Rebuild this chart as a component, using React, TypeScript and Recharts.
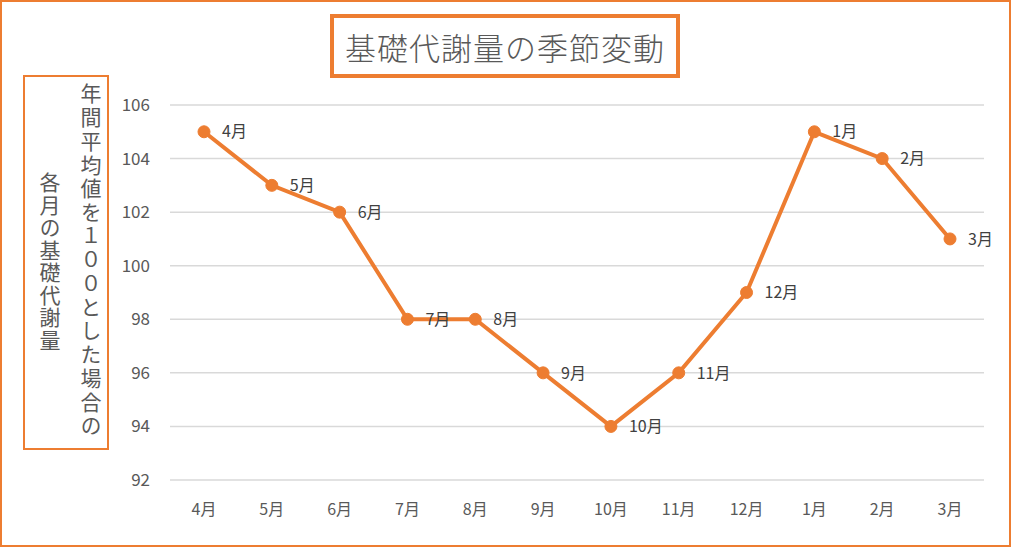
import React from "react";
import { LineChart, Line, XAxis, YAxis, CartesianGrid, LabelList } from "recharts";

const months = ["4月", "5月", "6月", "7月", "8月", "9月", "10月", "11月", "12月", "1月", "2月", "3月"];
const values = [105, 103, 102, 98, 98, 96, 94, 96, 99, 105, 104, 101];
const yTicks = [92, 94, 96, 98, 100, 102, 104, 106];

const chartTitle = "基礎代謝量の季節変動";
const yTitleLine1 = "年間平均値を１００とした場合の";
const yTitleLine2 = "各月の基礎代謝量";

const ORANGE = "#ED7D31";
const FONT = "'Noto Sans CJK JP', 'Noto Sans', sans-serif";

const data = months.map((m, i) => ({ month: m, value: values[i] }));

const App = () => {
  return (
    <div style={{ position: "absolute", left: 0, top: 0, width: 1011, height: 547, background: "#fff", fontFamily: FONT }}>
      <LineChart width={1011} height={547} data={data} margin={{ top: 105, right: 27, bottom: 37, left: 0 }}>
        <CartesianGrid horizontal vertical={false} stroke="#d9d9d9" strokeWidth={1.5} />
        <XAxis
          dataKey="month"
          height={30}
          axisLine={false}
          tickLine={false}
          tickSize={0}
          tickMargin={24}
          padding={{ left: 34, right: 34 }}
          tick={{ fill: "#595959", fontSize: 16, fontFamily: FONT }}
          interval={0}
        />
        <YAxis
          width={170}
          domain={[92, 106]}
          ticks={yTicks}
          axisLine={false}
          tickLine={false}
          tickSize={0}
          tickMargin={20}
          tick={{ fill: "#595959", fontSize: 17, fontFamily: FONT }}
        />
        <Line
          dataKey="value"
          stroke={ORANGE}
          strokeWidth={4}
          dot={{ r: 6, fill: ORANGE, stroke: ORANGE, strokeWidth: 1 }}
          isAnimationActive={false}
        >
          <LabelList dataKey="month" position="right" offset={18} fill="#404040" fontSize={16} fontFamily={FONT} />
        </Line>
      </LineChart>

      {/* title box */}
      <div
        style={{
          position: "absolute", left: 330, top: 14, width: 350, height: 64, boxSizing: "border-box",
          border: `4px solid ${ORANGE}`, display: "flex", alignItems: "center", justifyContent: "center",
          color: "#595959", fontSize: 31, fontWeight: 300, letterSpacing: 1,
        }}
      >
        {chartTitle}
      </div>

      {/* y axis title box */}
      <div
        style={{
          position: "absolute", left: 23, top: 75, width: 86, height: 375, boxSizing: "border-box",
          border: `2px solid ${ORANGE}`,
        }}
      >
        <div
          style={{
            position: "absolute", left: 53, top: 6, width: 26, writingMode: "vertical-rl", textOrientation: "upright",
            color: "#595959", fontSize: 21, letterSpacing: 2.7, lineHeight: "26px",
          }}
        >
          {yTitleLine1}
        </div>
        <div
          style={{
            position: "absolute", left: 12, top: 95, width: 26, writingMode: "vertical-rl", textOrientation: "upright",
            color: "#595959", fontSize: 21, letterSpacing: 1.5, lineHeight: "26px",
          }}
        >
          {yTitleLine2}
        </div>
      </div>

      {/* outer border */}
      <div
        style={{
          position: "absolute", left: 0, top: 0, width: 1011, height: 547, boxSizing: "border-box",
          border: `2px solid ${ORANGE}`, pointerEvents: "none",
        }}
      />
    </div>
  );
};

export default App;
